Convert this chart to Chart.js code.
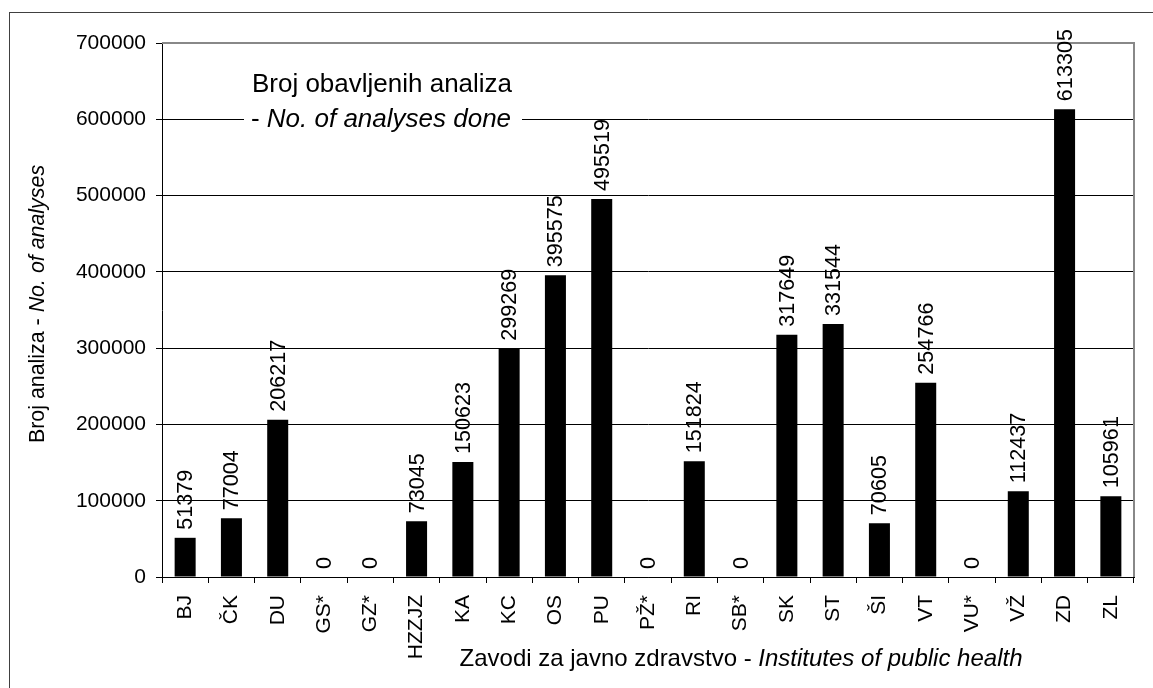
<!DOCTYPE html>
<html>
<head>
<meta charset="utf-8">
<title>Broj obavljenih analiza</title>
<script src="https://cdn.jsdelivr.net/npm/chart.js@4.4.1/dist/chart.umd.min.js"></script>
<style>
  html, body { margin: 0; padding: 0; background: #fff; }
  canvas { display: block; }
</style>
</head>
<body>
<canvas id="analizeChart" width="1153" height="688"></canvas>
<script>
// zavodi za javno zdravstvo
const zavodi = ['BJ', 'ČK', 'DU', 'GS*', 'GZ*', 'HZZJZ', 'KA', 'KC', 'OS', 'PU', 'PŽ*', 'RI', 'SB*', 'SK', 'ST', 'ŠI', 'VT', 'VU*', 'VŽ', 'ZD', 'ZL'];
// broj obavljenih analiza
const brojAnaliza = [51379, 77004, 206217, 0, 0, 73045, 150623, 299269, 395575, 495519, 0, 151824, 0, 317649, 331544, 70605, 254766, 0, 112437, 613305, 105961];
// y os
const yMin = 0;
const yMax = 700000;
const yKorak = 100000;

const FONT = '"Liberation Sans", Arial, sans-serif';

// tekst iz vise dijelova (obicni + kurziv), centriran oko cx
function drawParts(ctx, parts, cx, y) {
    let total = 0;
    parts.forEach(p => { ctx.font = p.f + ' ' + FONT; total += ctx.measureText(p.t).width; });
    let x = cx - total / 2;
    ctx.textAlign = 'left';
    ctx.textBaseline = 'alphabetic';
    parts.forEach(p => {
        ctx.font = p.f + ' ' + FONT;
        ctx.fillText(p.t, x, y);
        x += ctx.measureText(p.t).width;
    });
}

// vanjski okvir
const okvirPlugin = {
    id: 'okvir',
    beforeDraw(chart) {
        const ctx = chart.ctx;
        ctx.save();
        ctx.fillStyle = '#fff';
        ctx.fillRect(0, 0, chart.width, chart.height);
        ctx.strokeStyle = '#404040';
        ctx.lineWidth = 1;
        ctx.strokeRect(9.5, 12.5, 1200, 700);
        ctx.restore();
    },
    beforeDatasetsDraw(chart) {
        // sivi okvir gore i desno
        const { ctx, chartArea: a } = chart;
        ctx.save();
        ctx.strokeStyle = '#888';
        ctx.lineWidth = 2;
        ctx.beginPath();
        ctx.moveTo(a.left, a.top);
        ctx.lineTo(a.right, a.top);
        ctx.lineTo(a.right, a.bottom);
        ctx.stroke();
        ctx.restore();
    }
};

// vrijednosti iznad stupaca
const oznakePlugin = {
    id: 'oznake',
    afterDatasetsDraw(chart) {
        const ctx = chart.ctx;
        const meta = chart.getDatasetMeta(0);
        ctx.save();
        ctx.fillStyle = '#000';
        ctx.font = '21.6px ' + FONT;
        ctx.textAlign = 'left';
        ctx.textBaseline = 'middle';
        meta.data.forEach((bar, i) => {
            ctx.save();
            ctx.translate(bar.x + 1, bar.y - 8);
            ctx.rotate(-Math.PI / 2);
            ctx.fillText(String(brojAnaliza[i]), 0, 0);
            ctx.restore();
        });
        ctx.restore();
    }
};

// naslovi (s kurzivom)
const nasloviPlugin = {
    id: 'naslovi',
    afterDraw(chart) {
        const ctx = chart.ctx;
        ctx.save();
        ctx.fillStyle = '#fff';
        ctx.fillRect(244, 64, 278, 72);
        ctx.fillStyle = '#000';
        drawParts(ctx, [{ t: 'Broj obavljenih analiza', f: '26px' }], 382, 92);
        drawParts(ctx, [{ t: '- ', f: '26px' }, { t: 'No. of analyses done', f: 'italic 26px' }], 381, 127);

        drawParts(ctx, [{ t: 'Zavodi za javno zdravstvo - ', f: '24px' }, { t: 'Institutes of public health', f: 'italic 24px' }], 741, 666);

        ctx.translate(44, 304);
        ctx.rotate(-Math.PI / 2);
        drawParts(ctx, [{ t: 'Broj analiza - ', f: '21.4px' }, { t: 'No. of analyses', f: 'italic 21.4px' }], 0, 0);
        ctx.restore();
    }
};

const ctx = document.getElementById('analizeChart').getContext('2d');
const analizeChart = new Chart(ctx, {
    type: 'bar',
    data: {
        labels: zavodi,
        datasets: [{
            data: brojAnaliza,
            backgroundColor: '#000',
            borderWidth: 0,
            barPercentage: 0.454,
            categoryPercentage: 1
        }]
    },
    options: {
        responsive: false,
        devicePixelRatio: 1,
        animation: false,
        layout: { padding: { top: 43, right: 19, left: 0, bottom: 0 } },
        plugins: {
            legend: { display: false },
            tooltip: { enabled: false }
        },
        scales: {
            x: {
                grid: { drawOnChartArea: false, drawTicks: true, tickLength: 6, color: '#000', offset: true },
                border: { color: '#000', width: 1 },
                ticks: {
                    autoSkip: false, minRotation: 90, maxRotation: 90, padding: 12,
                    color: '#000', font: { family: FONT, size: 21 }
                },
                afterFit: s => { s.height = 111; }
            },
            y: {
                min: yMin,
                max: yMax,
                grid: {
                    color: c => (c.tick && c.tick.value === yMax) ? 'rgba(0,0,0,0)' : '#000',
                    tickColor: '#000',
                    tickLength: 6
                },
                border: { color: '#000', width: 1 },
                ticks: {
                    stepSize: yKorak, padding: 10, color: '#000',
                    font: { family: FONT, size: 21 },
                    callback: v => String(v)
                },
                afterFit: s => { s.width = 162; }
            }
        }
    },
    plugins: [okvirPlugin, oznakePlugin, nasloviPlugin]
});
</script>
</body>
</html>
